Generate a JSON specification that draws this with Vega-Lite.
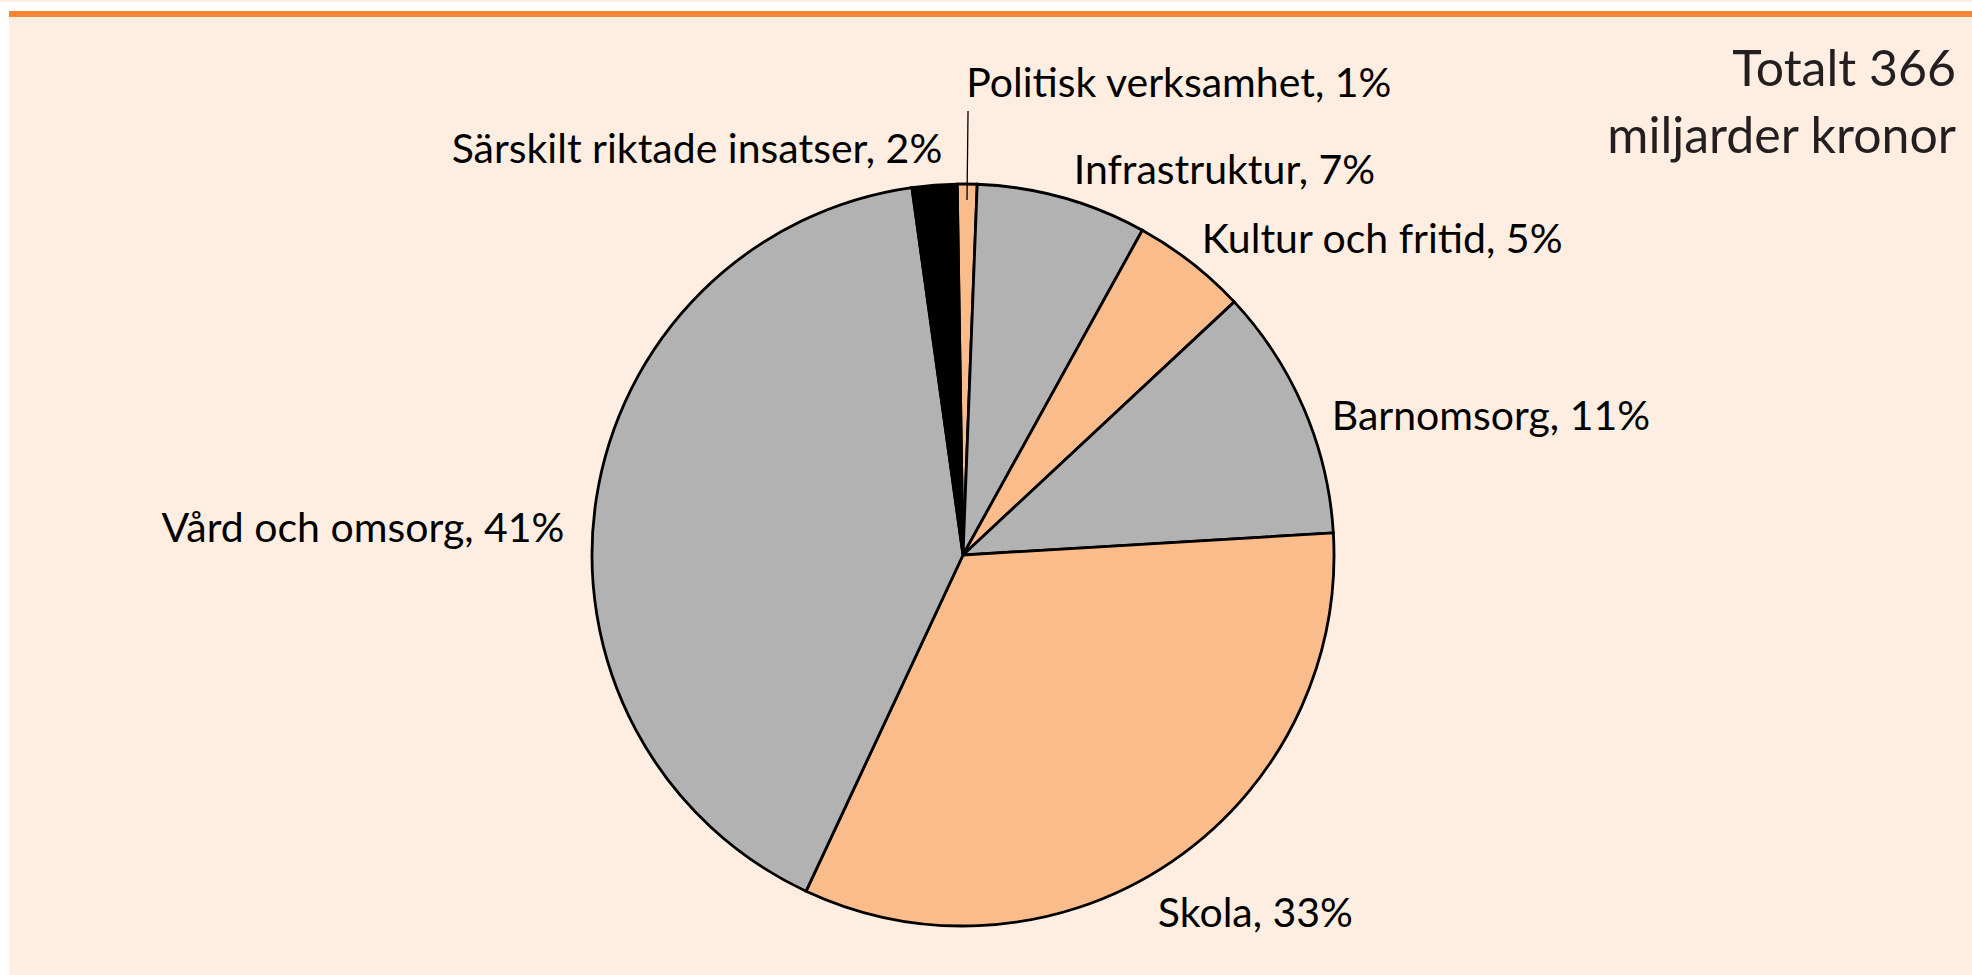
{
  "$schema": "https://vega.github.io/schema/vega-lite/v6.json",
  "background": "#FDEEE1",
  "padding": 0,
  "autosize": {"type": "pad"},
  "config": {"view": {"stroke": null}, "font": "Lato"},
  "datasets": {
    "shares": [
      {"order": 1, "category": "Politisk verksamhet", "value": 0.86, "label": "Politisk verksamhet, 1%"},
      {"order": 2, "category": "Infrastruktur", "value": 7.42, "label": "Infrastruktur, 7%"},
      {"order": 3, "category": "Kultur och fritid", "value": 5.02, "label": "Kultur och fritid, 5%"},
      {"order": 4, "category": "Barnomsorg", "value": 11.0, "label": "Barnomsorg, 11%"},
      {"order": 5, "category": "Skola", "value": 32.9, "label": "Skola, 33%"},
      {"order": 6, "category": "Vård och omsorg", "value": 40.85, "label": "Vård och omsorg, 41%"},
      {"order": 7, "category": "Särskilt riktade insatser", "value": 1.95, "label": "Särskilt riktade insatser, 2%"}
    ]
  },
  "spacing": 0,
  "bounds": "flush",
  "hconcat": [
    {
      "width": 9, "height": 975,
      "view": {"fill": "#FFFFFF", "stroke": null},
      "data": {"values": [{}]},
      "mark": {"type": "text", "text": ""},
      "encoding": {}
    },
    {
      "spacing": 0,
      "bounds": "flush",
      "vconcat": [
        {
          "width": 1963, "height": 9,
          "view": {"fill": "#FFFFFF", "stroke": null},
          "title": {
            "text": ["Totalt 366", "miljarder kronor"],
            "orient": "bottom",
            "anchor": "end",
            "frame": "group",
            "align": "right",
            "baseline": "top",
            "offset": 34,
            "dx": -16,
            "lineHeight": 67,
            "font": "Lato",
            "fontSize": 50,
            "fontWeight": "normal",
            "color": "#231F20"
          },
          "data": {"values": [{}]},
          "mark": {"type": "text", "text": ""},
          "encoding": {}
        },
        {
          "width": 1963, "height": 6,
          "view": {"fill": "#F68634", "stroke": null},
          "data": {"values": [{}]},
          "mark": {"type": "text", "text": ""},
          "encoding": {}
        },
        {
          "width": 1963, "height": 116,
          "data": {"values": [{}]},
          "mark": {"type": "text", "text": ""},
          "encoding": {}
        },
        {
          "width": 1908, "height": 844,
          "data": {"name": "shares"},
          "transform": [
            {"window": [{"op": "sum", "field": "value", "as": "cum"}], "sort": [{"field": "order", "order": "ascending"}], "frame": [null, 0]},
            {"calculate": "datum.cum - datum.value / 2", "as": "mid"}
          ],
          "layer": [
            {
              "mark": {"type": "arc", "radius": 371, "stroke": "#000000", "strokeWidth": 2.8},
              "encoding": {
                "theta": {"field": "value", "type": "quantitative", "stack": true, "scale": {"range": [-0.0157, 6.2675]}},
                "order": {"field": "order", "type": "quantitative", "sort": "ascending"},
                "color": {
                  "field": "category", "type": "nominal", "legend": null,
                  "scale": {
                    "domain": ["Politisk verksamhet", "Infrastruktur", "Kultur och fritid", "Barnomsorg", "Skola", "Vård och omsorg", "Särskilt riktade insatser"],
                    "range": ["#F9BC8A", "#B2B2B2", "#F9BC8A", "#B2B2B2", "#F9BC8A", "#B2B2B2", "#000000"]
                  }
                }
              }
            },
            {
              "transform": [{"filter": {"field": "category", "equal": "Politisk verksamhet"}}],
              "mark": {"type": "arc", "radius": 444, "radius2": 355, "stroke": "#000000", "strokeWidth": 1.3, "fill": null},
              "encoding": {
                "theta": {"field": "mid", "type": "quantitative", "stack": null},
                "theta2": {"field": "mid"}
              }
            },
            {
              "transform": [{"filter": {"field": "category", "equal": "Politisk verksamhet"}}],
              "mark": {"type": "text", "radius": 470, "align": "left", "baseline": "middle", "dx": -2, "font": "Lato", "fontSize": 41, "color": "#000000"},
              "encoding": {
                "theta": {"field": "mid", "type": "quantitative", "stack": null},
                "text": {"field": "label"}
              }
            },
            {
              "transform": [{"filter": {"field": "category", "equal": "Infrastruktur"}}],
              "mark": {"type": "text", "radius": 398, "align": "left", "baseline": "middle", "dx": 4, "font": "Lato", "fontSize": 41, "color": "#000000"},
              "encoding": {
                "theta": {"field": "mid", "type": "quantitative", "stack": null},
                "text": {"field": "label"}
              }
            },
            {
              "transform": [{"filter": {"field": "category", "equal": "Kultur och fritid"}}],
              "mark": {"type": "text", "radius": 398, "align": "left", "baseline": "middle", "dx": -6, "font": "Lato", "fontSize": 41, "color": "#000000"},
              "encoding": {
                "theta": {"field": "mid", "type": "quantitative", "stack": null},
                "text": {"field": "label"}
              }
            },
            {
              "transform": [{"filter": {"field": "category", "equal": "Barnomsorg"}}],
              "mark": {"type": "text", "radius": 398, "align": "left", "baseline": "middle", "dx": 3, "dy": 20, "font": "Lato", "fontSize": 41, "color": "#000000"},
              "encoding": {
                "theta": {"field": "mid", "type": "quantitative", "stack": null},
                "text": {"field": "label"}
              }
            },
            {
              "transform": [{"filter": {"field": "category", "equal": "Skola"}}],
              "mark": {"type": "text", "radius": 400, "align": "left", "baseline": "top", "dx": -30, "dy": 9, "font": "Lato", "fontSize": 41, "color": "#000000"},
              "encoding": {
                "theta": {"field": "mid", "type": "quantitative", "stack": null},
                "text": {"field": "label"}
              }
            },
            {
              "transform": [{"filter": {"field": "category", "equal": "Vård och omsorg"}}],
              "mark": {"type": "text", "radius": 400, "align": "right", "baseline": "middle", "dx": -3, "dy": 34, "font": "Lato", "fontSize": 41, "color": "#000000"},
              "encoding": {
                "theta": {"field": "mid", "type": "quantitative", "stack": null},
                "text": {"field": "label"}
              }
            },
            {
              "transform": [{"filter": {"field": "category", "equal": "Särskilt riktade insatser"}}],
              "mark": {"type": "text", "radius": 400, "align": "right", "baseline": "middle", "dx": 10, "dy": -5, "font": "Lato", "fontSize": 41, "color": "#000000"},
              "encoding": {
                "theta": {"field": "mid", "type": "quantitative", "stack": null},
                "text": {"field": "label"}
              }
            }
          ]
        }
      ]
    }
  ]
}
